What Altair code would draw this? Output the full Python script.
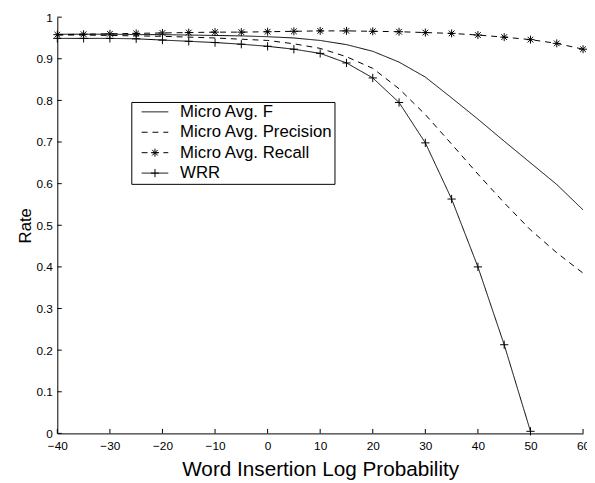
import altair as alt
import pandas as pd

# ---- data ----
x_vals = [-40, -35, -30, -25, -20, -15, -10, -5, 0, 5, 10, 15, 20, 25, 30, 35, 40, 45, 50, 55, 60]
f_vals = [0.959, 0.959, 0.959, 0.958, 0.958, 0.957, 0.956, 0.955, 0.953, 0.950, 0.944,
          0.934, 0.918, 0.892, 0.856, 0.806, 0.755, 0.702, 0.650, 0.598, 0.537]
p_vals = [0.957, 0.957, 0.956, 0.955, 0.954, 0.952, 0.950, 0.947, 0.944, 0.936, 0.925,
          0.905, 0.877, 0.828, 0.766, 0.695, 0.623, 0.554, 0.489, 0.434, 0.385]
r_vals = [0.958, 0.959, 0.960, 0.961, 0.962, 0.963, 0.964, 0.964, 0.965, 0.966, 0.967,
          0.967, 0.966, 0.965, 0.963, 0.961, 0.957, 0.952, 0.946, 0.937, 0.923]
wrr_x = [-40, -35, -30, -25, -20, -15, -10, -5, 0, 5, 10, 15, 20, 25, 30, 35, 40, 45, 50]
wrr_vals = [0.949, 0.949, 0.949, 0.948, 0.945, 0.942, 0.939, 0.935, 0.930, 0.923, 0.913,
            0.890, 0.854, 0.795, 0.698, 0.563, 0.400, 0.213, 0.005]

series_names = ["Micro Avg. F", "Micro Avg. Precision", "Micro Avg. Recall", "WRR"]
marker_keys = ["mF", "mP", "mR", "mW"]
x_ticks = [-40, -30, -20, -10, 0, 10, 20, 30, 40, 50, 60]
y_ticks = [0, 0.1, 0.2, 0.3, 0.4, 0.5, 0.6, 0.7, 0.8, 0.9, 1.0]

rows = []
for name, key, xs, ys in [(series_names[0], marker_keys[0], x_vals, f_vals),
                          (series_names[1], marker_keys[1], x_vals, p_vals),
                          (series_names[2], marker_keys[2], x_vals, r_vals),
                          (series_names[3], marker_keys[3], wrr_x, wrr_vals)]:
    for a, b in zip(xs, ys):
        rows.append({"x": a, "value": b, "series": name, "marker": key})
df = pd.DataFrame(rows)
df_m = df[df["marker"].isin(["mR", "mW"])]

W, H = 533, 422
FONT = "Liberation Sans"

star = ("M-0.3,0L0.3,0M0,-0.3L0,0.3"
        "M-0.212,-0.212L0.212,0.212M-0.212,0.212L0.212,-0.212")
plus = "M-0.31,0L0.31,0M0,-0.31L0,0.31"

xscale = alt.Scale(domain=[-40, 60], nice=False, zero=False)
yscale = alt.Scale(domain=[0, 1], nice=False, zero=False)

x_axis = alt.Axis(values=x_ticks, format="d", title="Word Insertion Log Probability",
                  ticks=False, domainColor="black", domainWidth=1,
                  labelFont=FONT, labelFontSize=12, labelColor="black",
                  labelPadding=7.5, labelFlush=False, labelOverlap=False,
                  grid=False, titleFont=FONT, titleFontSize=21,
                  titleFontWeight="normal", titleColor="black",
                  titleY=37, titleBaseline="middle")
y_axis = alt.Axis(values=y_ticks, format=".1~f", title="Rate",
                  ticks=False, domainColor="black", domainWidth=1,
                  labelFont=FONT, labelFontSize=12, labelColor="black",
                  labelPadding=5, labelFlush=False, labelOverlap=False,
                  grid=False, titleFont=FONT, titleFontSize=17,
                  titleFontWeight="normal", titleColor="black",
                  titleX=-32, titleY=H / 2, titleBaseline="middle",
                  titleAngle=270)

leg_common = dict(
    orient="none", legendX=75, legendY=86, padding=1.5, clipHeight=17,
    rowPadding=2.7, labelFontSize=17, labelFont=FONT, symbolSize=729,
    symbolOffset=8.5, labelOffset=11.5, title=None,
    symbolStrokeColor="black", symbolStrokeWidth=1,
)

lines = alt.Chart(df).mark_line(color="black", strokeWidth=1).encode(
    x=alt.X("x:Q", scale=xscale, axis=x_axis),
    y=alt.Y("value:Q", scale=yscale, axis=y_axis),
    strokeDash=alt.StrokeDash(
        "series:N",
        scale=alt.Scale(domain=series_names, range=[[1, 0], [6, 5], [6, 5], [1, 0]]),
        legend=alt.Legend(symbolType="stroke", labelColor="black", strokeColor="black",
                          labelExpr="datum.label + '\u00a0\u00a0'", **leg_common)),
)

points = alt.Chart(df_m).mark_point(filled=False, color="black", strokeWidth=1,
                                    size=729, opacity=1).encode(
    x=alt.X("x:Q", scale=xscale, axis=x_axis),
    y=alt.Y("value:Q", scale=yscale, axis=y_axis),
    shape=alt.Shape(
        "marker:N",
        scale=alt.Scale(domain=marker_keys, range=["M0,0", "M0,0", star, plus]),
        legend=alt.Legend(labelColor="rgba(0,0,0,0)", symbolFillColor="transparent",
                          labelExpr="'\u00a0'", **leg_common)),
)

xt = pd.DataFrame({"x": x_ticks})
yt = pd.DataFrame({"value": y_ticks})
xtick_layer = alt.Chart(xt).mark_rule(color="black", strokeWidth=1).encode(
    x=alt.X("x:Q", scale=xscale, axis=x_axis),
    y=alt.value(H), y2=alt.value(H - 4.5))
ytick_layer = alt.Chart(yt).mark_rule(color="black", strokeWidth=1).encode(
    y=alt.Y("value:Q", scale=yscale, axis=y_axis),
    x=alt.value(0), x2=alt.value(4.5))

chart = alt.layer(lines, points, xtick_layer, ytick_layer).properties(
    width=W, height=H,
    autosize=alt.AutoSizeParams(type="none"),
    padding={"left": 50, "top": 6, "right": 4, "bottom": 47},
    background="white",
).configure_view(stroke=None)

chart.save("out.html", embed_options={"renderer": "svg", "actions": False})
